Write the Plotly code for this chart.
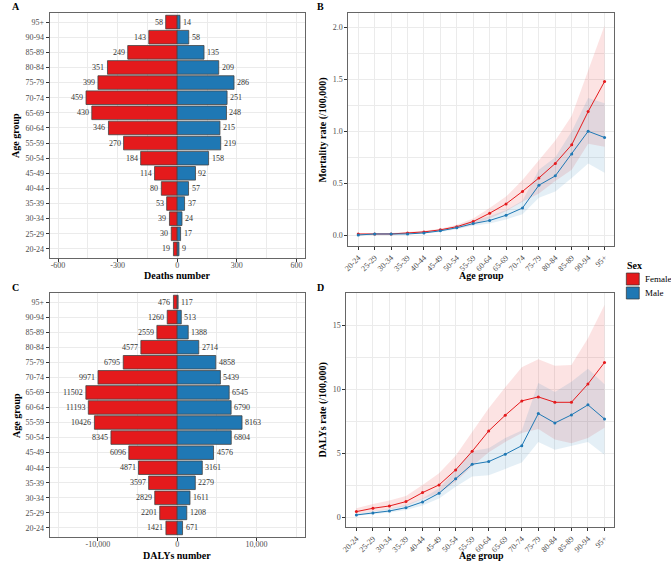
import plotly.graph_objects as go

ages = ["20-24", "25-29", "30-34", "35-39", "40-44", "45-49", "50-54", "55-59",
        "60-64", "65-69", "70-74", "75-79", "80-84", "85-89", "90-94", "95+"]

deaths_female = [19, 30, 39, 53, 80, 114, 184, 270, 346, 430, 459, 399, 351, 249, 143, 58]
deaths_male = [9, 17, 24, 37, 57, 92, 158, 219, 215, 248, 251, 286, 209, 135, 58, 14]

dalys_female = [1421, 2201, 2829, 3597, 4871, 6096, 8345, 10426, 11193, 11502, 9971, 6795, 4577, 2559, 1260, 476]
dalys_male = [671, 1208, 1611, 2279, 3161, 4576, 6804, 8163, 6790, 6545, 5439, 4858, 2714, 1388, 513, 117]

mort_female = [0.01, 0.01, 0.01, 0.02, 0.03, 0.05, 0.08, 0.13, 0.21, 0.30, 0.42, 0.55, 0.69, 0.87, 1.19, 1.48]
mort_female_lo = [0.005, 0.005, 0.005, 0.015, 0.02, 0.04, 0.06, 0.10, 0.16, 0.23, 0.32, 0.40, 0.52, 0.63, 0.88, 0.85]
mort_female_hi = [0.015, 0.015, 0.02, 0.03, 0.04, 0.06, 0.10, 0.16, 0.26, 0.37, 0.53, 0.72, 0.91, 1.15, 1.58, 2.02]
mort_male = [0.00, 0.01, 0.01, 0.01, 0.02, 0.04, 0.07, 0.11, 0.14, 0.19, 0.26, 0.48, 0.57, 0.78, 1.00, 0.94]
mort_male_lo = [0.0, 0.005, 0.005, 0.008, 0.015, 0.03, 0.055, 0.09, 0.11, 0.15, 0.20, 0.36, 0.42, 0.55, 0.69, 0.60]
mort_male_hi = [0.005, 0.012, 0.012, 0.02, 0.03, 0.05, 0.09, 0.14, 0.18, 0.24, 0.33, 0.63, 0.75, 1.00, 1.32, 1.27]

dr_female = [0.47, 0.73, 0.91, 1.25, 1.95, 2.55, 3.72, 5.17, 6.76, 7.98, 9.10, 9.41, 8.99, 8.99, 10.42, 12.09]
dr_female_lo = [0.30, 0.50, 0.65, 0.90, 1.45, 1.90, 2.80, 4.00, 5.10, 5.90, 6.60, 6.90, 6.10, 5.80, 6.20, 7.00]
dr_female_hi = [0.73, 1.07, 1.33, 1.69, 2.55, 3.46, 4.83, 6.70, 8.53, 10.16, 11.72, 12.35, 11.83, 11.90, 13.98, 16.58]
dr_male = [0.21, 0.36, 0.52, 0.78, 1.22, 1.90, 3.04, 4.16, 4.37, 4.94, 5.61, 8.11, 7.38, 8.01, 8.79, 7.69]
dr_male_lo = [0.15, 0.27, 0.40, 0.60, 0.95, 1.50, 2.40, 3.20, 3.30, 3.80, 4.30, 5.90, 5.30, 5.60, 5.90, 4.90]
dr_male_hi = [0.30, 0.50, 0.70, 1.00, 1.50, 2.30, 3.70, 5.20, 5.40, 6.20, 6.80, 10.50, 9.80, 10.60, 11.60, 10.40]

RED = "#E41A1C"
BLUE = "#1F78B4"
RED_FILL = "rgba(228,26,28,0.12)"
BLUE_FILL = "rgba(31,120,180,0.12)"
FONT = "Liberation Serif"
W, H = 671, 561

fig = go.Figure()


def add_pyramid(fem, mal, xa, ya):
    fig.add_trace(go.Bar(y=ages, x=[-v for v in fem], orientation="h", width=0.9,
                         marker=dict(color=RED, line=dict(color="#444444", width=0.8)),
                         xaxis=xa, yaxis=ya, showlegend=False, hoverinfo="skip"))
    fig.add_trace(go.Bar(y=ages, x=mal, orientation="h", width=0.9,
                         marker=dict(color=BLUE, line=dict(color="#444444", width=0.8)),
                         xaxis=xa, yaxis=ya, showlegend=False, hoverinfo="skip"))
    for age, f, m in zip(ages, fem, mal):
        fig.add_annotation(x=-f, y=age, xref=xa, yref=ya, text=str(f), showarrow=False,
                           xanchor="right", yanchor="middle", xshift=-1,
                           font=dict(family=FONT, size=8, color="#333333"))
        fig.add_annotation(x=m, y=age, xref=xa, yref=ya, text=str(m), showarrow=False,
                           xanchor="left", yanchor="middle", xshift=1,
                           font=dict(family=FONT, size=8, color="#333333"))


def add_rates(fem, flo, fhi, mal, mlo, mhi, xa, ya):
    for lo, hi, fill in ((flo, fhi, RED_FILL), (mlo, mhi, BLUE_FILL)):
        fig.add_trace(go.Scatter(x=ages + ages[::-1], y=hi + lo[::-1], fill="toself", fillcolor=fill,
                                 line=dict(width=0), mode="lines", xaxis=xa, yaxis=ya,
                                 showlegend=False, hoverinfo="skip"))
    for vals, col in ((fem, RED), (mal, BLUE)):
        fig.add_trace(go.Scatter(x=ages, y=vals, mode="lines+markers", line=dict(color=col, width=1),
                                 marker=dict(color=col, size=3), xaxis=xa, yaxis=ya,
                                 showlegend=False, hoverinfo="skip"))


add_pyramid(deaths_female, deaths_male, "x", "y")
add_pyramid(dalys_female, dalys_male, "x2", "y2")
add_rates(mort_female, mort_female_lo, mort_female_hi, mort_male, mort_male_lo, mort_male_hi, "x3", "y3")
add_rates(dr_female, dr_female_lo, dr_female_hi, dr_male, dr_male_lo, dr_male_hi, "x4", "y4")

GRID = "#EBEBEB"
common = dict(showline=True, mirror=True, linecolor="#666666", linewidth=1, ticks="outside", ticklen=3,
              tickcolor="#333333", tickfont=dict(family=FONT, size=8, color="#4D4D4D"),
              showgrid=True, gridcolor=GRID, gridwidth=1, zeroline=False)


def px_dom_x(a, b):
    return [a / W, b / W]


def px_dom_y(top, bot):
    return [1 - bot / H, 1 - top / H]


cat_axis = dict(type="category", categoryorder="array", categoryarray=ages, range=[-0.6, 15.6], **common)

fig.update_layout(
    width=W, height=H, margin=dict(l=0, r=0, t=0, b=0),
    paper_bgcolor="white", plot_bgcolor="white", barmode="relative",
    font=dict(family=FONT),
    xaxis=dict(domain=px_dom_x(45, 302), anchor="y", range=[-642, 642],
               tickmode="array", tickvals=[-600, -300, 0, 300, 600],
               ticktext=["-600", "-300", "0", "300", "600"], ticklabelstandoff=-4,
               minor=dict(tickvals=[-450, -150, 150, 450], showgrid=True, gridcolor=GRID, gridwidth=0.5),
               **common),
    yaxis=dict(domain=px_dom_y(13, 258), anchor="x", **cat_axis),
    xaxis2=dict(domain=px_dom_x(45, 302), anchor="y2", range=[-16062, 16062],
                tickmode="array", tickvals=[-10000, 0, 10000],
                ticktext=["-10,000", "0", "10,000"], ticklabelstandoff=-4,
                minor=dict(tickvals=[-15000, -5000, 5000, 15000], showgrid=True, gridcolor=GRID, gridwidth=0.5),
                **common),
    yaxis2=dict(domain=px_dom_y(293, 537), anchor="x2", **cat_axis),
    xaxis3=dict(domain=px_dom_x(346, 614), anchor="y3", tickangle=-45, **cat_axis),
    yaxis3=dict(domain=px_dom_y(13, 246), anchor="x3", range=[-0.106, 2.14],
                tickmode="array", tickvals=[0, 0.5, 1.0, 1.5, 2.0],
                ticktext=["0.0", "0.5", "1.0", "1.5", "2.0"],
                minor=dict(tickvals=[0.25, 0.75, 1.25, 1.75], showgrid=True, gridcolor=GRID, gridwidth=0.5),
                **common),
    xaxis4=dict(domain=px_dom_x(344, 614), anchor="y4", tickangle=-45, **cat_axis),
    yaxis4=dict(domain=px_dom_y(293, 527), anchor="x4", range=[-0.73, 17.51],
                tickmode="array", tickvals=[0, 5, 10, 15], ticktext=["0", "5", "10", "15"],
                minor=dict(tickvals=[2.5, 7.5, 12.5], showgrid=True, gridcolor=GRID, gridwidth=0.5),
                **common),
)


def ann(text, x, y, size=10, angle=0, xanchor="center", yanchor="middle"):
    fig.add_annotation(text=text, x=x / W, y=1 - y / H, xref="paper", yref="paper", showarrow=False,
                       textangle=angle, xanchor=xanchor, yanchor=yanchor,
                       font=dict(family=FONT, size=size, color="black"))


# panel letters
ann("<b>A</b>", 5, 7, xanchor="left")
ann("<b>B</b>", 312, 7, xanchor="left")
ann("<b>C</b>", 5, 287, xanchor="left")
ann("<b>D</b>", 312, 287, xanchor="left")

# axis titles
ann("<b>Deaths number</b>", 173, 275)
ann("<b>DALYs number</b>", 173, 555)
ann("<b>Age group</b>", 480, 275)
ann("<b>Age group</b>", 480, 555)
ann("<b>Age group</b>", 11, 135, angle=-90)
ann("<b>Age group</b>", 11, 415, angle=-90)
ann("<b>Mortality rate (/100,000)</b>", 320, 130, angle=-90)
ann("<b>DALYs rate (/100,000)</b>", 320, 410, angle=-90)

# legend
ann("<b>Sex</b>", 625, 265, xanchor="left")
for (label, col, top) in (("Female", RED, 273), ("Male", BLUE, 287)):
    fig.add_shape(type="rect", xref="paper", yref="paper",
                  x0=626 / W, x1=639 / W, y0=1 - (top + 12) / H, y1=1 - top / H,
                  fillcolor=col, line=dict(color="#333333", width=0.7))
    ann(label, 643, top + 6, size=9, xanchor="left")

fig.write_html("out.html")
